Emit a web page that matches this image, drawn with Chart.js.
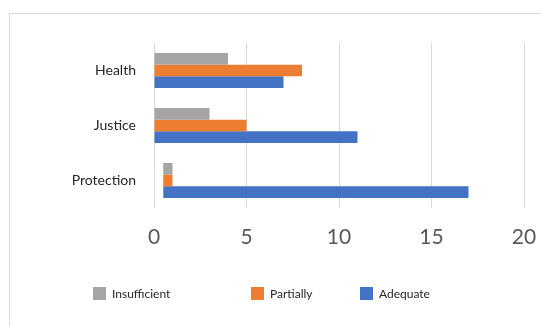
<!DOCTYPE html>
<html>
<head>
<meta charset="utf-8">
<script src="https://cdn.jsdelivr.net/npm/chart.js@4/dist/chart.umd.min.js"></script>
<style>
  html, body { margin: 0; padding: 0; background: #fff; }
  .wrap { position: relative; width: 541px; height: 326px; overflow: hidden; }
  .frame { position: absolute; left: 9px; top: 13px; width: 600px; height: 400px; border: 1px solid #d9d9d9; }
  canvas { position: absolute; left: 0; top: 0; }
</style>
</head>
<body>
<div class="wrap">
  <div class="frame"></div>
  <canvas id="chart" width="541" height="326"></canvas>
</div>
<script>
// Данные графика
const categories = ['Health', 'Justice', 'Protection'];
const insufficient = [4, 3, 1];
const partially = [8, 5, 1];
const adequate = [7, 11, 17];
const barStart = [0, 0, 0.5]; // в исходнике полосы Protection начинаются не с нуля
const xTicks = [0, 5, 10, 15, 20];

const fromStart = vals => vals.map((v, i) => [barStart[i], v]);

// Легенда снизу с неравными промежутками, как в оригинале
const legendX = [93, 251, 360];
const bottomLegend = {
    id: 'bottomLegend',
    afterDraw(chart) {
        const c = chart.ctx;
        c.save();
        c.font = '12px Lato';
        c.textBaseline = 'middle';
        chart.data.datasets.forEach((ds, i) => {
            c.fillStyle = ds.backgroundColor;
            c.fillRect(legendX[i], 287, 13, 13);
            c.fillStyle = '#262626';
            c.fillText(ds.label, legendX[i] + 19, 294);
        });
        c.restore();
    }
};

document.addEventListener('DOMContentLoaded', function() {
    const ctx = document.getElementById('chart').getContext('2d');

    new Chart(ctx, {
        type: 'bar',
        data: {
            labels: categories,
            datasets: [
                { label: 'Insufficient', data: fromStart(insufficient), backgroundColor: '#a5a5a5' },
                { label: 'Partially', data: fromStart(partially), backgroundColor: '#ed7d31' },
                { label: 'Adequate', data: fromStart(adequate), backgroundColor: '#4472c4' }
            ]
        },
        options: {
            indexAxis: 'y',
            responsive: false,
            animation: false,
            layout: { padding: { left: 10, right: 17, top: 43, bottom: 49 } },
            datasets: {
                bar: { categoryPercentage: 0.64, barPercentage: 1.0 }
            },
            scales: {
                x: {
                    min: 0,
                    max: 20,
                    afterBuildTicks: scale => { scale.ticks = xTicks.map(v => ({ value: v })); },
                    afterFit: scale => {
                        scale.height = 69;
                        scale.paddingLeft = 0;
                        scale.paddingRight = 0;
                    },
                    grid: { color: '#d9d9d9', drawTicks: false },
                    border: { display: false },
                    ticks: {
                        padding: 17,
                        color: '#595959',
                        font: { family: 'Lato', size: 21 }
                    }
                },
                y: {
                    afterFit: scale => { scale.width = 144; },
                    grid: { display: false, drawTicks: false },
                    border: { display: false },
                    ticks: {
                        padding: 18,
                        color: '#262626',
                        font: { family: 'Lato', size: 14 }
                    }
                }
            },
            plugins: {
                tooltip: { enabled: false },
                legend: { display: false }
            }
        },
        plugins: [bottomLegend]
    });
});
</script>
</body>
</html>
